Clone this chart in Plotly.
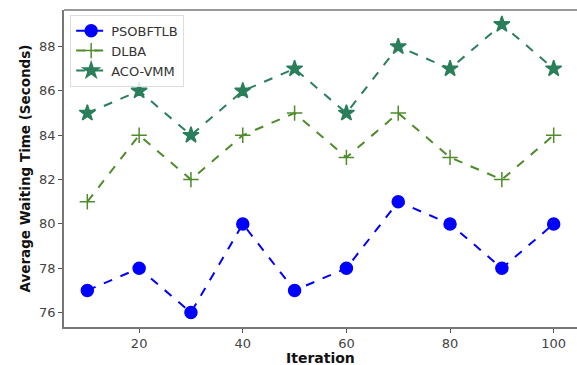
import plotly.graph_objects as go

iterations = [10, 20, 30, 40, 50, 60, 70, 80, 90, 100]
psobftlb = [77, 78, 76, 80, 77, 78, 81, 80, 78, 80]
dlba = [81, 84, 82, 84, 85, 83, 85, 83, 82, 84]
aco_vmm = [85, 86, 84, 86, 87, 85, 88, 87, 89, 87]

series = [
    ("PSOBFTLB", psobftlb, "#0000ff", "circle", 12),
    ("DLBA", dlba, "#4f8a2b", "cross-thin", 11),
    ("ACO-VMM", aco_vmm, "#2a7f5a", "star", 12),
]

fig = go.Figure()
for name, vals, color, sym, size in series:
    fig.add_trace(go.Scatter(
        x=iterations, y=vals, name=name, mode="lines+markers",
        line=dict(color=color, width=2, dash="dash"),
        marker=dict(symbol=sym, size=size, color=color,
                    line=dict(color=color, width=1.5)),
    ))

font = "DejaVu Sans"
fig.update_layout(
    width=577, height=365,
    margin=dict(l=64, r=0, t=10, b=38),
    paper_bgcolor="white", plot_bgcolor="white",
    font=dict(family=font, size=13, color="#333333"),
    showlegend=True,
    legend=dict(x=0.012, y=0.985, xanchor="left", yanchor="top",
                bgcolor="rgba(255,255,255,0.85)", bordercolor="#dddddd",
                borderwidth=1, font=dict(size=13, color="#333333"),
                tracegroupgap=0),
    shapes=[dict(type="line", xref="paper", yref="paper", x0=0, x1=1, y0=1, y1=1,
                 line=dict(color="#777777", width=1.5))],
    annotations=[dict(text="<b>Iteration</b>", xref="paper", yref="paper",
                      x=0.5, y=0, xanchor="center", yanchor="middle", yshift=-31,
                      showarrow=False, font=dict(size=14, color="#111111"))],
)
fig.update_xaxes(
    range=[5.5, 104.5], tickvals=[20, 40, 60, 80, 100],
    showgrid=False, zeroline=False,
    showline=True, linecolor="#777777", linewidth=1.5, mirror=False,
    ticks="outside", ticklen=4, tickcolor="#555555",
    tickfont=dict(size=13, color="#444444"),
)
fig.update_yaxes(
    range=[75.35, 89.65], tickvals=[76, 78, 80, 82, 84, 86, 88],
    showgrid=False, zeroline=False,
    showline=True, linecolor="#777777", linewidth=1.5, mirror=False,
    ticks="outside", ticklen=4, tickcolor="#555555",
    tickfont=dict(size=13, color="#444444"),
    title=dict(text="<b>Average Waiting Time (Seconds)</b>", font=dict(size=13.5, color="#111111"), standoff=5),
)

fig.write_html("out.html")
